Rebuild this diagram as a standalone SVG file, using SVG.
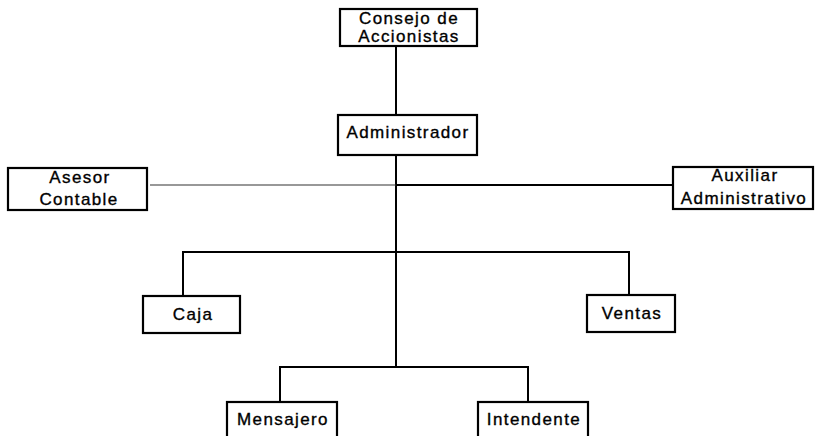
<svg xmlns="http://www.w3.org/2000/svg" width="815" height="436" viewBox="0 0 815 436">
<style>
.box{fill:#fff;stroke:#000;stroke-width:2.2}
.t{font-family:"Liberation Sans",Arial,sans-serif;font-size:17px;letter-spacing:1.4px;fill:#000;stroke:#000;stroke-width:0.35;text-anchor:middle}
.c{stroke:#000;stroke-width:2;fill:none}
.f{stroke:#333;stroke-width:1.2;fill:none}
</style>
<rect width="815" height="436" fill="#fff"/>
<g id="connectors">
<line class="c" x1="396" y1="46" x2="396" y2="115"/>
<line class="c" x1="396" y1="155" x2="396" y2="367"/>
<line class="f" x1="150" y1="185" x2="396" y2="185"/>
<line class="c" x1="396" y1="185" x2="673" y2="185"/>
<polyline class="c" points="183,296 183,252 629,252 629,295"/>
<polyline class="c" points="280,402 280,367 528,367 528,402"/>
</g>
<g id="consejo">
<rect class="box" x="340" y="9" width="137" height="37"/>
<text class="t" x="409" y="24">Consejo de</text>
<text class="t" x="409" y="42">Accionistas</text>
</g>
<g id="administrador">
<rect class="box" x="338" y="115" width="139" height="40"/>
<text class="t" x="408" y="138">Administrador</text>
</g>
<g id="asesor">
<rect class="box" x="8" y="168" width="139" height="42"/>
<text class="t" x="80" y="183">Asesor</text>
<text class="t" x="79" y="205">Contable</text>
</g>
<g id="auxiliar">
<rect class="box" x="673" y="167" width="140" height="42"/>
<text class="t" x="745" y="181">Auxiliar</text>
<text class="t" x="744" y="204">Administrativo</text>
</g>
<g id="caja">
<rect class="box" x="143" y="296" width="97" height="37"/>
<text class="t" x="193" y="320">Caja</text>
</g>
<g id="ventas">
<rect class="box" x="587" y="295" width="88" height="37"/>
<text class="t" x="632" y="319">Ventas</text>
</g>
<g id="mensajero">
<rect class="box" x="227" y="402" width="110" height="40"/>
<text class="t" x="283" y="425">Mensajero</text>
</g>
<g id="intendente">
<rect class="box" x="478" y="402" width="110" height="40"/>
<text class="t" x="534" y="425">Intendente</text>
</g>
</svg>
